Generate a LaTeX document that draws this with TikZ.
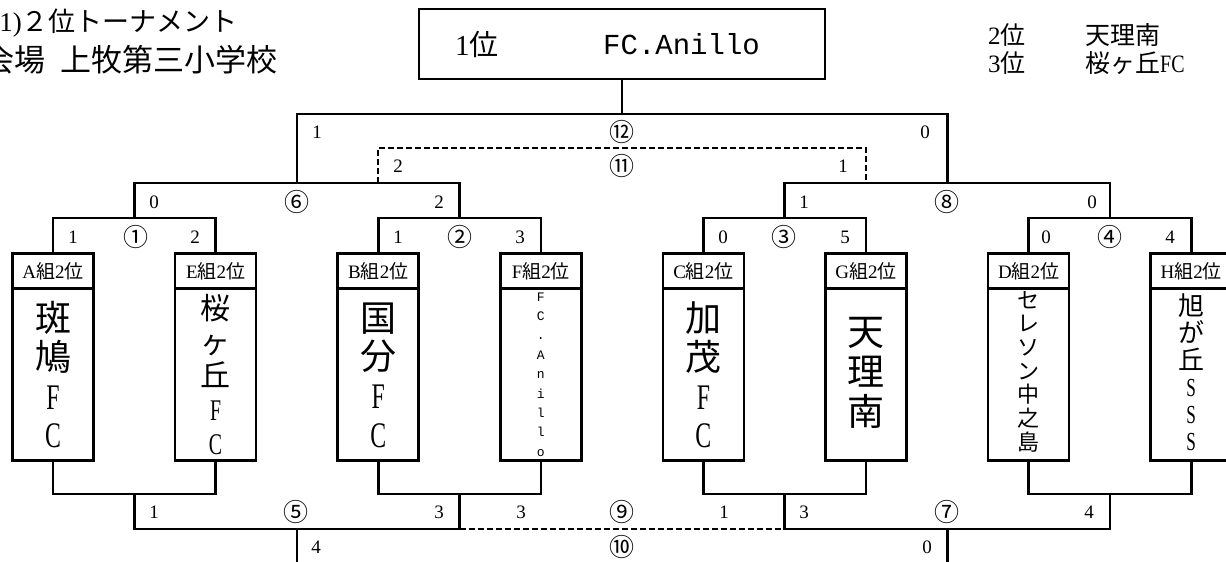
\documentclass[tikz,border=0pt]{standalone}
\usepackage{fontspec}
\usepackage{graphicx}
\setmainfont{Liberation Serif}
\newfontfamily\jp{Noto Sans CJK JP}
\newfontfamily\mono{Liberation Mono}
\newcommand\lat[1]{{\rmfamily #1}}
\newcommand\cz[1]{\scalebox{0.66}[1]{\rmfamily #1}}
\newcommand\czb[1]{\scalebox{0.8}[1]{\rmfamily #1}}
\begin{document}
\begin{tikzpicture}[x=1pt,y=-1pt,
  ln/.style={line width=2.6pt},
  dsh/.style={line width=1.8pt, dash pattern=on 6pt off 3pt},
  hdr/.style={draw, line width=2.6pt, minimum width=81pt, minimum height=35pt, inner sep=0pt, anchor=north, font=\jp\fontsize{19}{19}\selectfont},
  body/.style={draw, line width=2.6pt, minimum width=81pt, minimum height=172pt, inner sep=0pt, anchor=north},
  nm/.style={inner sep=0pt, align=center},
  sc/.style={font=\fontsize{19}{19}\selectfont, inner sep=0pt},
  cn/.style={font=\jp\fontsize{25}{25}\selectfont, inner sep=0pt},
  txt/.style={inner sep=0pt}]
\useasboundingbox (0,0) rectangle (1226,562);

% ---- titles
\node[txt, anchor=east, font=\jp\fontsize{27}{27}\selectfont] (title) at (238,23) {\lat{1)}２位トーナメント};
\node[txt, anchor=east, font=\jp\fontsize{31}{31}\selectfont] (venue) at (278,60) {会場\hspace{0.5em}上牧第三小学校};
\node[txt, anchor=west, font=\jp\fontsize{25}{25}\selectfont] (rk2) at (988,35) {\lat{2}位};
\node[txt, anchor=west, font=\jp\fontsize{25}{25}\selectfont] (rk2n) at (1085,35) {天理南};
\node[txt, anchor=west, font=\jp\fontsize{25}{25}\selectfont] (rk3) at (988,63) {\lat{3}位};
\node[txt, anchor=west, font=\jp\fontsize{25}{25}\selectfont] (rk3n) at (1085,63) {桜ヶ丘\czb{FC}};

% ---- champion box
\node[draw, line width=2.6pt, minimum width=406pt, minimum height=70pt, inner sep=0pt] (champ) at (622.1,44) {};
\node[txt, anchor=west, font=\jp\fontsize{29}{29}\selectfont] (champrank) at (455,44) {\lat{1}位};
\node[txt, anchor=west, font=\mono\fontsize{29}{29}\selectfont] (champname) at (603,44) {FC.Anillo};

% ---- team boxes
\node[hdr] (hA) at (53,252) {\lat{A}組\lat{2}位};
\node[body] (bA) at (53,287) {};
\node[hdr] (hE) at (215.6,252) {\lat{E}組\lat{2}位};
\node[body] (bE) at (215.6,287) {};
\node[hdr] (hB) at (378.2,252) {\lat{B}組\lat{2}位};
\node[body] (bB) at (378.2,287) {};
\node[hdr] (hF) at (540.8,252) {\lat{F}組\lat{2}位};
\node[body] (bF) at (540.8,287) {};
\node[hdr] (hC) at (703.4,252) {\lat{C}組\lat{2}位};
\node[body] (bC) at (703.4,287) {};
\node[hdr] (hG) at (866,252) {\lat{G}組\lat{2}位};
\node[body] (bG) at (866,287) {};
\node[hdr] (hD) at (1028.6,252) {\lat{D}組\lat{2}位};
\node[body] (bD) at (1028.6,287) {};
\node[hdr] (hH) at (1191.2,252) {\lat{H}組\lat{2}位};
\node[body] (bH) at (1191.2,287) {};

% ---- team names (vertical)
\node[nm, font=\jp\fontsize{36}{38.7}\selectfont] (nA) at (53,375) {斑\\鳩\\\cz{F}\\\cz{C}};
\node[nm, font=\jp\fontsize{30}{33.7}\selectfont] (nE) at (215.6,374.5) {桜\\ヶ\\丘\\\cz{F}\\\cz{C}};
\node[nm, font=\jp\fontsize{36}{38.7}\selectfont] (nB) at (378.2,375) {国\\分\\\cz{F}\\\cz{C}};
\node[nm, font=\mono\fontsize{13}{19.4}\selectfont] (nF) at (540.8,374.5) {F\\C\\.\\A\\n\\i\\l\\l\\o};
\node[nm, font=\jp\fontsize{36}{38.7}\selectfont] (nC) at (703.4,375) {加\\茂\\\cz{F}\\\cz{C}};
\node[nm, font=\jp\fontsize{37}{40}\selectfont] (nG) at (866,373) {天\\理\\南};
\node[nm, font=\jp\fontsize{22}{23.7}\selectfont] (nD) at (1028.6,371.5) {セ\\レ\\ソ\\ン\\中\\之\\島};
\node[nm, font=\jp\fontsize{26}{27}\selectfont] (nH) at (1191.2,372.5) {旭\\が\\丘\\\cz{S}\\\cz{S}\\\cz{S}};

% ---- junction coordinates
\coordinate (r1) at (134.3,218);
\coordinate (r2) at (459.5,218);
\coordinate (r3) at (784.7,218);
\coordinate (r4) at (1109.9,218);
\coordinate (q6) at (296.9,183);
\coordinate (q8) at (947.3,183);
\coordinate (q12) at (622.1,114);
\coordinate (q11) at (622.1,148);
\coordinate (d11L) at (378.2,183);
\coordinate (d11R) at (866,183);
\coordinate (j1) at (134.3,494);
\coordinate (j2) at (459.5,494);
\coordinate (j3) at (784.7,494);
\coordinate (j4) at (1109.9,494);
\coordinate (p5) at (296.9,529);
\coordinate (p7) at (947.3,529);
\coordinate (p9L) at (459.5,529);
\coordinate (p9R) at (784.7,529);
\coordinate (e5) at (296.9,570);
\coordinate (e7) at (947.3,570);

% ---- upper bracket
\draw[ln] (hA.north) |- (r1) -| (hE.north);
\draw[ln] (hB.north) |- (r2) -| (hF.north);
\draw[ln] (hC.north) |- (r3) -| (hG.north);
\draw[ln] (hD.north) |- (r4) -| (hH.north);
\draw[ln] (r1) |- (q6) -| (r2);
\draw[ln] (r3) |- (q8) -| (r4);
\draw[ln] (q6) |- (q12) -| (q8);
\draw[ln] (q12) -- (champ.south);
\draw[dsh] (d11L) |- (q11) -| (d11R);

% ---- lower bracket
\draw[ln] (bA.south) |- (j1) -| (bE.south);
\draw[ln] (bB.south) |- (j2) -| (bF.south);
\draw[ln] (bC.south) |- (j3) -| (bG.south);
\draw[ln] (bD.south) |- (j4) -| (bH.south);
\draw[ln] (j1) |- (p5) -| (j2);
\draw[ln] (j3) |- (p7) -| (j4);
\draw[ln] (p5) -- (e5);
\draw[ln] (p7) -- (e7);
\draw[dsh] (p9L) -- (p9R);

% ---- scores and match numbers
\node[sc] (s1a) at (73,237) {1};
\node[cn] (m1) at (136,237) {①};
\node[sc] (s1b) at (195,237) {2};
\node[sc] (s2a) at (398,237) {1};
\node[cn] (m2) at (460,237) {②};
\node[sc] (s2b) at (520,237) {3};
\node[sc] (s3a) at (723,237) {0};
\node[cn] (m3) at (784,237) {③};
\node[sc] (s3b) at (845,237) {5};
\node[sc] (s4a) at (1046,237) {0};
\node[cn] (m4) at (1110,237) {④};
\node[sc] (s4b) at (1170,237) {4};

\node[sc] (s6a) at (154,202) {0};
\node[cn] (m6) at (297,202) {⑥};
\node[sc] (s6b) at (439,202) {2};
\node[sc] (s8a) at (804,202) {1};
\node[cn] (m8) at (947,202) {⑧};
\node[sc] (s8b) at (1092,202) {0};

\node[sc] (s12a) at (317,132) {1};
\node[cn] (m12) at (622,132) {⑫};
\node[sc] (s12b) at (925,132) {0};
\node[sc] (s11a) at (398,166) {2};
\node[cn] (m11) at (622,166) {⑪};
\node[sc] (s11b) at (843,166) {1};

\node[sc] (s5a) at (154,512) {1};
\node[cn] (m5) at (296,512) {⑤};
\node[sc] (s5b) at (439,512) {3};
\node[sc] (s9a) at (521,512) {3};
\node[cn] (m9) at (622,512) {⑨};
\node[sc] (s9b) at (724,512) {1};
\node[sc] (s7a) at (804,512) {3};
\node[cn] (m7) at (947,512) {⑦};
\node[sc] (s7b) at (1089,512) {4};

\node[sc] (s10a) at (316,547) {4};
\node[cn] (m10) at (622,547) {⑩};
\node[sc] (s10b) at (927,547) {0};
\end{tikzpicture}
\end{document}
